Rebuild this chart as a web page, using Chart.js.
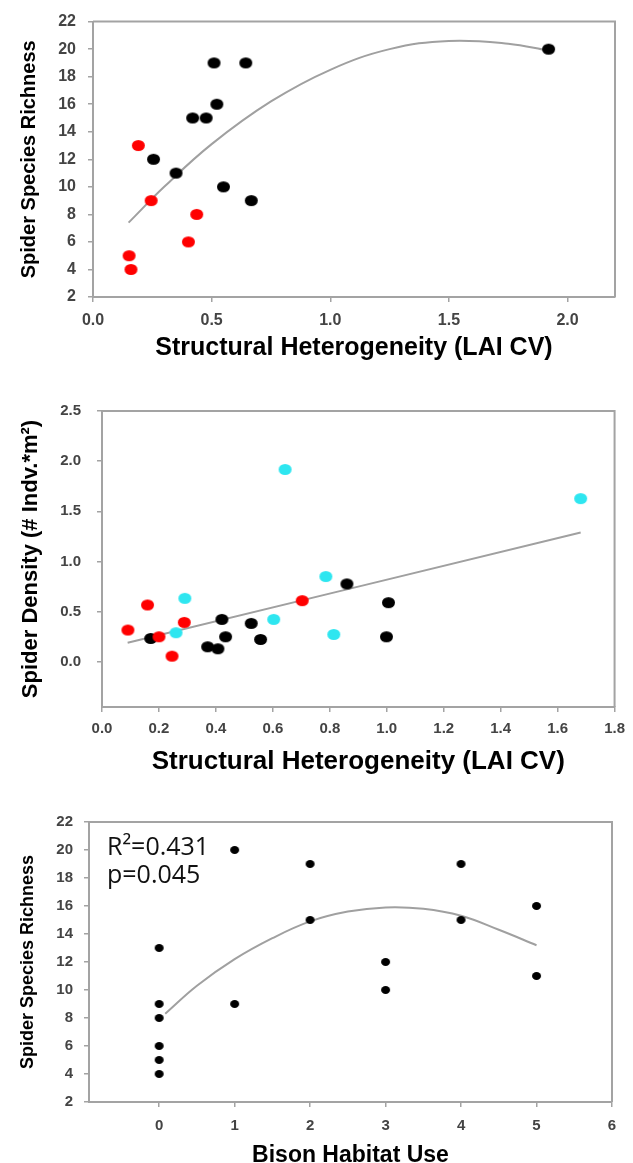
<!DOCTYPE html>
<html><head><meta charset="utf-8">
<script src="https://cdn.jsdelivr.net/npm/chart.js@4.4.1/dist/chart.umd.min.js"></script>
<style>
html,body{margin:0;padding:0;background:#fff;overflow:hidden;width:633px;height:1163px;}
.box{position:absolute;left:0;width:633px;}
canvas{display:block;}
</style></head><body>
<div class="box" style="top:0;height:378px"><canvas id="c1" width="633" height="378"></canvas></div>
<div class="box" style="top:378px;height:404px"><canvas id="c2" width="633" height="404"></canvas></div>
<div class="box" style="top:782px;height:390px"><canvas id="c3" width="633" height="390"></canvas></div>
<script>
// ---------- Panel 1: richness vs LAI CV ----------
const p1XTicks = [0, 0.5, 1.0, 1.5, 2.0];
const p1YTicks = [2, 4, 6, 8, 10, 12, 14, 16, 18, 20, 22];
const p1BlackX = [0.51, 0.644, 0.522, 0.42, 0.477, 0.255, 0.35, 0.55, 0.667, 1.92];
const p1BlackY = [19, 19, 16, 15, 15, 12, 11, 10, 9, 20];
const p1RedX = [0.191, 0.245, 0.437, 0.402, 0.152, 0.16];
const p1RedY = [13, 9, 8, 6, 5, 4];
const p1CurveX = [0.15, 0.3, 0.5, 0.75, 1.0, 1.25, 1.5, 1.75, 1.92];
const p1CurveY = [7.4, 10.0, 13.1, 16.2, 18.5, 20.0, 20.6, 20.4, 19.9];

// ---------- Panel 2: density vs LAI CV ----------
const p2XTicks = [0, 0.2, 0.4, 0.6, 0.8, 1.0, 1.2, 1.4, 1.6, 1.8];
const p2YTicks = [0, 0.5, 1.0, 1.5, 2.0, 2.5];
const p2CyanX = [0.643, 1.681, 0.786, 0.291, 0.603, 0.26, 0.814];
const p2CyanY = [1.917, 1.627, 0.85, 0.633, 0.423, 0.29, 0.273];
const p2RedX = [0.16, 0.091, 0.289, 0.2, 0.246, 0.703];
const p2RedY = [0.567, 0.317, 0.393, 0.25, 0.057, 0.61];
const p2BlackX = [0.171, 0.421, 0.371, 0.407, 0.434, 0.524, 0.557, 0.86, 1.006, 0.999];
const p2BlackY = [0.233, 0.423, 0.15, 0.13, 0.25, 0.383, 0.223, 0.777, 0.59, 0.25];
const p2LineX = [0.09, 1.681];
const p2LineY = [0.19, 1.29];

// ---------- Panel 3: richness vs bison habitat use ----------
const p3XTicks = [0, 1, 2, 3, 4, 5, 6];
const p3YTicks = [2, 4, 6, 8, 10, 12, 14, 16, 18, 20, 22];
const p3X = [0, 0, 0, 0, 0, 0, 1, 1, 2, 2, 3, 3, 4, 4, 5, 5];
const p3Y = [13, 9, 8, 6, 5, 4, 20, 9, 19, 15, 12, 10, 19, 15, 16, 11];
const p3CurveX = [0.08, 0.5, 1, 1.5, 2, 2.5, 3, 3.5, 4, 4.5, 5];
const p3CurveY = [8.3, 10.3, 12.2, 13.7, 14.9, 15.6, 15.9, 15.8, 15.3, 14.3, 13.2];
const p3Stats = ['R\u00B2=0.431', 'p=0.045'];

const GRAY = '#a3a3a3';
const TICKCOL = '#444444';
const FONT = '"Liberation Sans", Arial, sans-serif';

function ellipse(color, w, h) {
  const c = document.createElement('canvas');
  c.width = w + 2; c.height = h + 2;
  const g = c.getContext('2d');
  g.fillStyle = color;
  g.beginPath();
  g.ellipse((w + 2) / 2, (h + 2) / 2, w / 2, h / 2, 0, 0, Math.PI * 2);
  g.fill();
  return c;
}
function pts(xs, ys) { return xs.map((x, i) => ({x: x, y: ys[i]})); }

const frame = {
  id: 'frame',
  beforeDatasetsDraw(chart) {
    const {ctx, chartArea: a} = chart;
    ctx.save();
    ctx.strokeStyle = GRAY; ctx.lineWidth = 2;
    ctx.beginPath();
    ctx.moveTo(a.left, a.top); ctx.lineTo(a.right, a.top); ctx.lineTo(a.right, a.bottom);
    ctx.stroke();
    ctx.restore();
  }
};

function scatterSet(data, img) {
  return {type: 'scatter', data: data, pointStyle: img, pointRadius: 6, pointHoverRadius: 6, order: 1};
}
function curveSet(data) {
  return {type: 'line', data: data, showLine: true, borderColor: '#a0a0a0', borderWidth: 2,
          pointRadius: 0, tension: 0.4, fill: false, order: 2};
}

function makeChart(o) {
  const grid = {display: true, drawOnChartArea: false, drawTicks: true, tickLength: 5, color: GRAY, lineWidth: 1.5};
  const border = {display: true, color: GRAY, width: 2};
  return new Chart(document.getElementById(o.id), {
    type: 'scatter',
    data: {datasets: o.datasets},
    options: {
      responsive: false, animation: false, devicePixelRatio: 1,
      layout: {padding: {left: 0, top: o.top, right: o.right, bottom: 0}},
      plugins: {legend: {display: false}, tooltip: {enabled: false}},
      scales: {
        x: {
          type: 'linear', position: 'bottom', min: o.xMin, max: o.xMax,
          afterBuildTicks: s => { s.ticks = o.xTicks.map(v => ({value: v})); },
          afterFit: s => { s.height = o.xH; },
          ticks: {autoSkip: false, maxRotation: 0, padding: o.xPad, color: TICKCOL,
                  font: {family: FONT, size: o.tickSize, weight: 'bold'}, callback: v => o.xFmt(v)},
          grid: grid, border: border,
          title: {display: true, text: o.xTitle, color: '#000',
                  font: {family: FONT, size: o.xTitleSize, weight: 'bold'},
                  padding: {top: 0, bottom: o.xTitlePad}}
        },
        y: {
          type: 'linear', position: 'left', min: o.yMin, max: o.yMax,
          afterBuildTicks: s => { s.ticks = o.yTicks.map(v => ({value: v})); },
          afterFit: s => { s.width = o.yW; },
          ticks: {autoSkip: false, padding: o.yPad, color: TICKCOL,
                  font: {family: FONT, size: o.tickSize, weight: 'bold'}, callback: v => o.yFmt(v)},
          grid: grid, border: border,
          title: {display: true, text: o.yTitle, color: '#000',
                  font: {family: FONT, size: o.yTitleSize, weight: 'bold'},
                  padding: {top: o.yTitlePad, bottom: 0}}
        }
      }
    },
    plugins: [frame].concat(o.plugins || [])
  });
}

const f1 = v => Number(v).toFixed(1);
const f0 = v => String(Math.round(v));

// Panel 1
makeChart({
  id: 'c1', top: 15, right: 18, yW: 93, xH: 81, xPad: 9, yPad: 12, tickSize: 16,
  xMin: 0, xMax: 2.2, xTicks: p1XTicks, xFmt: f1,
  yMin: 2, yMax: 22, yTicks: p1YTicks, yFmt: f0,
  xTitle: 'Structural Heterogeneity (LAI CV)', xTitleSize: 25, xTitlePad: 15,
  yTitle: 'Spider Species Richness', yTitleSize: 20, yTitlePad: 17,
  datasets: [
    curveSet(pts(p1CurveX, p1CurveY)),
    scatterSet(pts(p1RedX, p1RedY), ellipse('#ff0000', 13, 11)),
    scatterSet(pts(p1BlackX, p1BlackY), ellipse('#000000', 13, 11))
  ]
});

// Panel 2
makeChart({
  id: 'c2', top: 33, right: 15, yW: 102, xH: 75, xPad: 8, yPad: 16, tickSize: 15,
  xMin: 0, xMax: 1.8, xTicks: p2XTicks, xFmt: f1,
  yMin: -0.45, yMax: 2.5, yTicks: p2YTicks, yFmt: f1,
  xTitle: 'Structural Heterogeneity (LAI CV)', xTitleSize: 26, xTitlePad: 5,
  yTitle: 'Spider Density (# Indv.*m\u00B2)', yTitleSize: 22, yTitlePad: 18,
  datasets: [
    curveSet(pts(p2LineX, p2LineY)),
    scatterSet(pts(p2CyanX, p2CyanY), ellipse('#2ee6f0', 13, 11)),
    scatterSet(pts(p2RedX, p2RedY), ellipse('#ff0000', 13, 11)),
    scatterSet(pts(p2BlackX, p2BlackY), ellipse('#000000', 13, 11))
  ]
});

// Panel 3
const statText = {
  id: 'stat',
  afterDraw(chart) {
    const {ctx, chartArea: a} = chart;
    ctx.save();
    ctx.fillStyle = '#111';
    ctx.font = '25px "Open Sans", sans-serif';
    ctx.textBaseline = 'alphabetic';
    ctx.textAlign = 'left';
    ctx.fillText(p3Stats[0], a.left + 18, a.top + 33);
    ctx.fillText(p3Stats[1], a.left + 18, a.top + 61);
    ctx.restore();
  }
};
makeChart({
  id: 'c3', top: 40, right: 21, yW: 89, xH: 70, xPad: 10, yPad: 11, tickSize: 15,
  xMin: -0.93, xMax: 6, xTicks: p3XTicks, xFmt: f0,
  yMin: 2, yMax: 22, yTicks: p3YTicks, yFmt: f0,
  xTitle: 'Bison Habitat Use', xTitleSize: 23, xTitlePad: 3,
  yTitle: 'Spider Species Richness', yTitleSize: 18, yTitlePad: 17,
  datasets: [
    curveSet(pts(p3CurveX, p3CurveY)),
    scatterSet(pts(p3X, p3Y), ellipse('#000000', 9, 8))
  ],
  plugins: [statText]
});
</script>
</body></html>
